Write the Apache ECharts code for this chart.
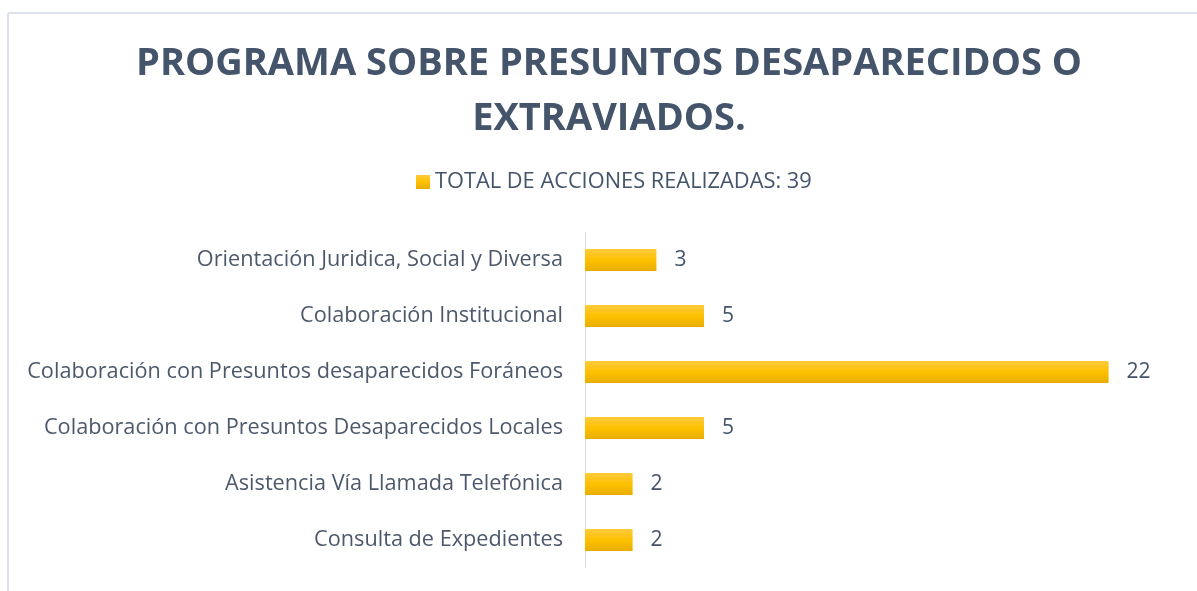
<!DOCTYPE html>
<html>
<head>
<meta charset="utf-8">
<script src="https://cdn.jsdelivr.net/npm/echarts@6/dist/echarts.min.js"></script>
<style>
  html, body { margin: 0; padding: 0; background: #fff; }
  #chart { width: 1197px; height: 591px; }
</style>
</head>
<body>
<div id="chart"></div>
<script>
// data
const titleText = "PROGRAMA SOBRE PRESUNTOS DESAPARECIDOS O\nEXTRAVIADOS.";
const seriesName = "TOTAL DE ACCIONES REALIZADAS: 39";
const categories = [
  "Orientación Juridica, Social y Diversa",
  "Colaboración Institucional",
  "Colaboración con Presuntos desaparecidos Foráneos",
  "Colaboración con Presuntos Desaparecidos Locales",
  "Asistencia Vía Llamada Telefónica",
  "Consulta de Expedientes",
];
const values = [3, 5, 22, 5, 2, 2];

const textColor = "#44546A";
const labelColor = "#4D596B";
const font = "'Open Sans', 'Noto Sans', sans-serif";

const chart = echarts.init(document.getElementById("chart"));

chart.setOption({
  animation: false,
  textStyle: { fontFamily: font },
  graphic: [
    // frame, only top and left edges show
    { type: "line", shape: { x1: 8, y1: 13, x2: 1197, y2: 13 }, style: { stroke: "#DDE2EA", lineWidth: 2 } },
    { type: "line", shape: { x1: 8, y1: 13, x2: 8, y2: 591 }, style: { stroke: "#DDE2EA", lineWidth: 2 } },
  ],
  title: {
    text: titleText,
    left: 609,
    textAlign: "center",
    top: 37,
    padding: 0,
    textStyle: {
      color: textColor,
      fontSize: 38,
      fontWeight: "bold",
      fontFamily: font,
      lineHeight: 55,
    },
  },
  legend: {
    data: [seriesName],
    left: 416,
    top: 171,
    padding: 0,
    itemWidth: 14,
    itemHeight: 14,
    itemGap: 6,
    icon: "rect",
    textStyle: { color: textColor, fontSize: 21.8, fontFamily: font },
  },
  grid: {
    left: 585,
    right: 17,
    top: 232,
    bottom: 23,
    containLabel: false,
  },
  xAxis: {
    type: "value",
    min: 0,
    max: 25,
    show: false,
  },
  yAxis: {
    type: "category",
    inverse: true,
    data: categories,
    axisLine: { lineStyle: { color: "#D9DDE3", width: 1 } },
    axisTick: { show: false },
    axisLabel: {
      color: labelColor,
      fontSize: 21.7,
      margin: 22,
      fontFamily: font,
      padding: [3, 0, 0, 0],
    },
  },
  series: [
    {
      name: seriesName,
      type: "bar",
      data: values,
      barWidth: 22,
      itemStyle: {
        color: new echarts.graphic.LinearGradient(0, 0, 0, 1, [
          { offset: 0, color: "#FFCB3D" },
          { offset: 0.5, color: "#FFC000" },
          { offset: 1, color: "#E8AE00" },
        ]),
      },
      label: {
        show: true,
        position: "right",
        distance: 18,
        color: textColor,
        fontSize: 21,
        fontFamily: font,
        padding: [3, 0, 0, 0],
      },
    },
  ],
});
</script>
</body>
</html>
